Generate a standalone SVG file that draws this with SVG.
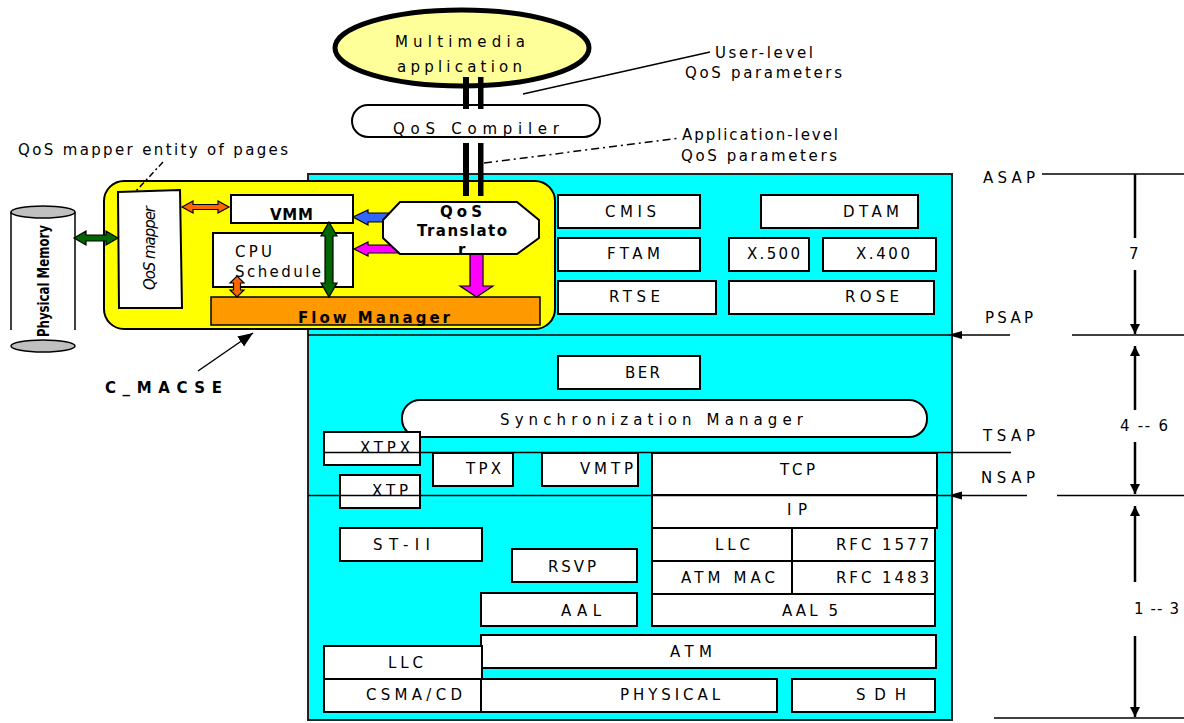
<svg xmlns="http://www.w3.org/2000/svg" width="1184" height="723" viewBox="0 0 1184 723">
<defs>
<style>
text{font-family:"DejaVu Sans","Liberation Sans",sans-serif;font-size:15px;fill:#000}
.b{font-weight:bold}
.box{fill:#fff;stroke:#000;stroke-width:2}
.ln{stroke:#000;stroke-width:1.5;fill:none}
.dim{stroke:#000;stroke-width:2.5;fill:none}
.ar{stroke:#000;stroke-width:1.2}
</style>
<marker id="ah" viewBox="0 0 10 10" refX="10" refY="5" markerWidth="4" markerHeight="4" orient="auto-start-reverse" markerUnits="strokeWidth">
<path d="M0,0 L10,5 L0,10 z" fill="#000"/>
</marker>
<marker id="ah2" viewBox="0 0 10 10" refX="10" refY="5" markerWidth="10" markerHeight="10" orient="auto" markerUnits="strokeWidth">
<path d="M0,1 L10,5 L0,9 z" fill="#000"/>
</marker>
</defs>
<rect width="1184" height="723" fill="#fff"/>

<g id="stack">
<rect x="308" y="174" width="644" height="546" fill="#00FFFF" stroke="#222" stroke-width="2"/>
</g>

<g id="cmacse">
<rect x="104" y="181" width="451" height="148" rx="20" fill="#FFFF00" stroke="#000" stroke-width="2"/>
</g>

<g id="app">
<ellipse cx="462" cy="48" rx="127" ry="38" fill="#FFFF99" stroke="#000" stroke-width="5"/>
<text x="395" y="47" font-size="18" textLength="130" lengthAdjust="spacing">Multimedia</text>
<text x="397" y="72" font-size="18" textLength="125" lengthAdjust="spacing">application</text>
</g>

<g id="compiler">
<rect x="352" y="105" width="248" height="32" rx="16" class="box" stroke-width="1.5"/>
<text x="393" y="134" font-size="17" textLength="166" lengthAdjust="spacing">QoS Compiler</text>
</g>

<g id="labels">
<text x="715" y="58" textLength="98" lengthAdjust="spacing">User-level</text>
<text x="685" y="78" textLength="157" lengthAdjust="spacing">QoS parameters</text>
<text x="682" y="140" textLength="156" lengthAdjust="spacing">Application-level</text>
<text x="681" y="161" textLength="156" lengthAdjust="spacing">QoS parameters</text>
<text x="18" y="155" textLength="270" lengthAdjust="spacing">QoS mapper entity of pages</text>
<text x="105" y="393" class="b" font-size="16" textLength="117" lengthAdjust="spacing">C_MACSE</text>
</g>

<g id="physmem">
<line x1="11" y1="212" x2="11" y2="330" class="ln"/>
<line x1="75" y1="212" x2="75" y2="330" class="ln"/>
<ellipse cx="43" cy="212" rx="32" ry="6" fill="#C0C0C0" stroke="#000" stroke-width="1.5"/>
<ellipse cx="43" cy="346" rx="32" ry="6" fill="#C0C0C0" stroke="#000" stroke-width="1.5"/>
<text transform="translate(49,281) rotate(-90)" text-anchor="middle" class="b" font-size="14" textLength="112" lengthAdjust="spacingAndGlyphs">Physical Memory</text>
</g>

<g id="mapper">
<polygon points="118,192 180,190 182,308 119,308" class="box" stroke-width="1.5"/>
<text transform="translate(155,248) rotate(-90)" text-anchor="middle" font-style="italic" textLength="84" lengthAdjust="spacing">QoS mapper</text>
</g>

<g id="vmm">
<rect x="231" y="195" width="122" height="28" class="box" stroke-width="1.5"/>
<text x="270" y="220" class="b" textLength="43" lengthAdjust="spacing">VMM</text>
</g>

<g id="cpu">
<rect x="213" y="233" width="140" height="54" class="box" stroke-width="1.5"/>
<text x="235" y="257" textLength="37" lengthAdjust="spacing">CPU</text>
<text x="235" y="277" textLength="86" lengthAdjust="spacing">Schedule</text>
</g>

<g id="flow">
<rect x="211" y="297" width="329" height="28" fill="#FF9900" stroke="#000" stroke-width="1.5"/>
<text x="298" y="323" class="b" font-size="16" textLength="152" lengthAdjust="spacing">Flow Manager</text>
</g>

<g id="connectors">
<rect x="463" y="77" width="6" height="32" fill="#000"/>
<rect x="478" y="77" width="5.5" height="32" fill="#000"/>
<rect x="463" y="143" width="6" height="53" fill="#000"/>
<rect x="478" y="143" width="5.5" height="53" fill="#000"/>
<line x1="523" y1="94" x2="710" y2="52" class="ln"/>
<line x1="484" y1="163" x2="680" y2="138" class="ln" stroke-dasharray="8,4,2,4"/>
<line x1="163" y1="162" x2="136" y2="191" class="ln" stroke-dasharray="6,3,2,3"/>
<polygon points="74,238 86,231 86,235 106,235 106,231 118,238 106,245 106,241 86,241 86,245" fill="#006600" class="ar"/>
<polygon points="182,207 193,201 193,204.5 218,204.5 218,201 229,207 218,213 218,209.5 193,209.5 193,213" fill="#FF6600" class="ar"/>
<polygon points="237,276 244,283 240.5,283 240.5,290 244,290 237,297 230,290 233.5,290 233.5,283 230,283" fill="#FF6600" class="ar"/>
<polygon points="329,222 337,236 333,236 333,283 337,283 329,297 321,283 325,283 325,236 321,236" fill="#006600" class="ar"/>
<polygon points="353,217 368,210 368,213 392,213 392,222 368,222 368,225" fill="#3366FF" class="ar"/>
<polygon points="354,249 368,242 368,245 410,245 410,253 368,253 368,256" fill="#FF00FF" class="ar"/>
<polygon points="470,248 483,248 483,286 493,286 476.5,297 460,286 470,286" fill="#FF00FF" class="ar"/>
<line x1="198" y1="371" x2="253" y2="333" stroke="#000" stroke-width="1.5" marker-end="url(#ah2)"/>
</g>

<g id="translator">
<polygon points="400,202 517,202 539,220 539,238 517,254 400,254 383,238 383,220" class="box" stroke-width="1.5"/>
<text x="440" y="217" class="b" textLength="42" lengthAdjust="spacing">QoS</text>
<text x="417" y="236" class="b" textLength="90" lengthAdjust="spacing">Translato</text>
<text x="458" y="255" class="b">r</text>
</g>

<g id="cmis"><rect x="558" y="195" width="142" height="33" class="box"/><text x="605" y="217" textLength="51" lengthAdjust="spacing">CMIS</text></g>
<g id="ftam"><rect x="558" y="238" width="142" height="33" class="box"/><text x="607" y="259" textLength="53" lengthAdjust="spacing">FTAM</text></g>
<g id="rtse"><rect x="558" y="281" width="158" height="33" class="box"/><text x="609" y="302" textLength="51" lengthAdjust="spacing">RTSE</text></g>
<g id="dtam"><rect x="761" y="195" width="157" height="33" class="box"/><text x="843" y="217" textLength="56" lengthAdjust="spacing">DTAM</text></g>
<g id="x500"><rect x="729" y="238" width="80" height="33" class="box"/><text x="747" y="259" textLength="53" lengthAdjust="spacing">X.500</text></g>
<g id="x400"><rect x="823" y="238" width="113" height="33" class="box"/><text x="856" y="259" textLength="54" lengthAdjust="spacing">X.400</text></g>
<g id="rose"><rect x="729" y="281" width="205" height="33" class="box"/><text x="845" y="302" textLength="54" lengthAdjust="spacing">ROSE</text></g>

<g id="ber"><rect x="558" y="356" width="142" height="33" class="box"/><text x="625" y="378" textLength="35" lengthAdjust="spacing">BER</text></g>
<g id="sync"><rect x="402" y="400" width="525" height="37" rx="18" class="box" stroke-width="1.5"/><text x="500" y="425" font-size="17" textLength="303" lengthAdjust="spacing">Synchronization Manager</text></g>
<g id="xtpx"><rect x="324" y="432" width="96" height="33" class="box"/><text x="360" y="453" textLength="50" lengthAdjust="spacing">XTPX</text></g>
<g id="tpx"><rect x="433" y="453" width="80" height="33" class="box"/><text x="466" y="474" textLength="35" lengthAdjust="spacing">TPX</text></g>
<g id="vmtp"><rect x="542" y="453" width="96" height="33" class="box"/><text x="580" y="474" textLength="53" lengthAdjust="spacing">VMTP</text></g>
<g id="xtp"><rect x="340" y="475" width="80" height="33" class="box"/><text x="372" y="496" textLength="36" lengthAdjust="spacing">XTP</text></g>
<g id="tcp"><rect x="652" y="453" width="285" height="42" class="box"/><text x="780" y="475" textLength="35" lengthAdjust="spacing">TCP</text></g>
<g id="ip"><rect x="652" y="495" width="285" height="33" class="box"/><text x="787" y="515" textLength="20" lengthAdjust="spacing">IP</text></g>

<g id="st2"><rect x="340" y="528" width="142" height="33" class="box"/><text x="373" y="550" textLength="57" lengthAdjust="spacing">ST-II</text></g>
<g id="rsvp"><rect x="512" y="549" width="125" height="33" class="box"/><text x="548" y="572" textLength="48" lengthAdjust="spacing">RSVP</text></g>
<g id="aal"><rect x="481" y="593" width="156" height="33" class="box"/><text x="561" y="616" textLength="40" lengthAdjust="spacing">AAL</text></g>
<g id="llc1"><rect x="652" y="528" width="140" height="33" class="box" stroke-width="1.5"/><text x="715" y="550" textLength="35" lengthAdjust="spacing">LLC</text></g>
<g id="rfc1577"><rect x="792" y="528" width="143" height="33" class="box" stroke-width="1.5"/><text x="836" y="550" textLength="93" lengthAdjust="spacing">RFC 1577</text></g>
<g id="atmmac"><rect x="652" y="561" width="140" height="33" class="box" stroke-width="1.5"/><text x="681" y="583" textLength="94" lengthAdjust="spacing">ATM MAC</text></g>
<g id="rfc1483"><rect x="792" y="561" width="143" height="33" class="box" stroke-width="1.5"/><text x="836" y="583" textLength="93" lengthAdjust="spacing">RFC 1483</text></g>
<g id="aal5"><rect x="652" y="594" width="283" height="32" class="box"/><text x="782" y="616" textLength="56" lengthAdjust="spacing">AAL 5</text></g>
<g id="atm"><rect x="481" y="635" width="455" height="33" class="box"/><text x="670" y="657" textLength="42" lengthAdjust="spacing">ATM</text></g>
<g id="llc2"><rect x="324" y="646" width="158" height="33" class="box"/><text x="388" y="668" textLength="35" lengthAdjust="spacing">LLC</text></g>
<g id="csma"><rect x="324" y="679" width="157" height="33" class="box"/><text x="366" y="700" textLength="96" lengthAdjust="spacing">CSMA/CD</text></g>
<g id="phys"><rect x="481" y="679" width="296" height="33" class="box"/><text x="620" y="700" textLength="100" lengthAdjust="spacing">PHYSICAL</text></g>
<g id="sdh"><rect x="792" y="679" width="143" height="33" class="box"/><text x="856" y="700" textLength="50" lengthAdjust="spacing">SDH</text></g>

<g id="saps">
<line x1="308" y1="335" x2="1010" y2="335" class="ln"/>
<line x1="1072" y1="335" x2="1184" y2="335" class="ln"/>
<polygon points="948,335 962,331 962,339" fill="#000"/>
<line x1="324" y1="452.5" x2="1011" y2="452.5" class="ln"/>
<line x1="308" y1="495.5" x2="1027" y2="495.5" class="ln"/>
<line x1="1057" y1="495.5" x2="1184" y2="495.5" class="ln"/>
<polygon points="948,495.5 962,491.5 962,499.5" fill="#000"/>
<line x1="1042" y1="174" x2="1184" y2="174" class="ln"/>
<line x1="994" y1="718" x2="1184" y2="718" class="ln"/>
<text x="983" y="183" textLength="52" lengthAdjust="spacing">ASAP</text>
<text x="985" y="323" textLength="48" lengthAdjust="spacing">PSAP</text>
<text x="983" y="441" textLength="52" lengthAdjust="spacing">TSAP</text>
<text x="981" y="483" textLength="54" lengthAdjust="spacing">NSAP</text>
<line x1="1135" y1="174" x2="1135" y2="238" class="dim"/>
<line x1="1135" y1="270" x2="1135" y2="334" class="dim" marker-end="url(#ah)"/>
<text x="1129" y="259">7</text>
<line x1="1135" y1="346" x2="1135" y2="410" class="dim" marker-start="url(#ah)"/>
<line x1="1135" y1="442" x2="1135" y2="494" class="dim" marker-end="url(#ah)"/>
<text x="1120" y="431" textLength="48" lengthAdjust="spacing">4 -- 6</text>
<line x1="1135" y1="506" x2="1135" y2="582" class="dim" marker-start="url(#ah)"/>
<line x1="1135" y1="636" x2="1135" y2="717" class="dim" marker-end="url(#ah)"/>
<text x="1134" y="614" textLength="45" lengthAdjust="spacing">1 -- 3</text>
</g>
</svg>
